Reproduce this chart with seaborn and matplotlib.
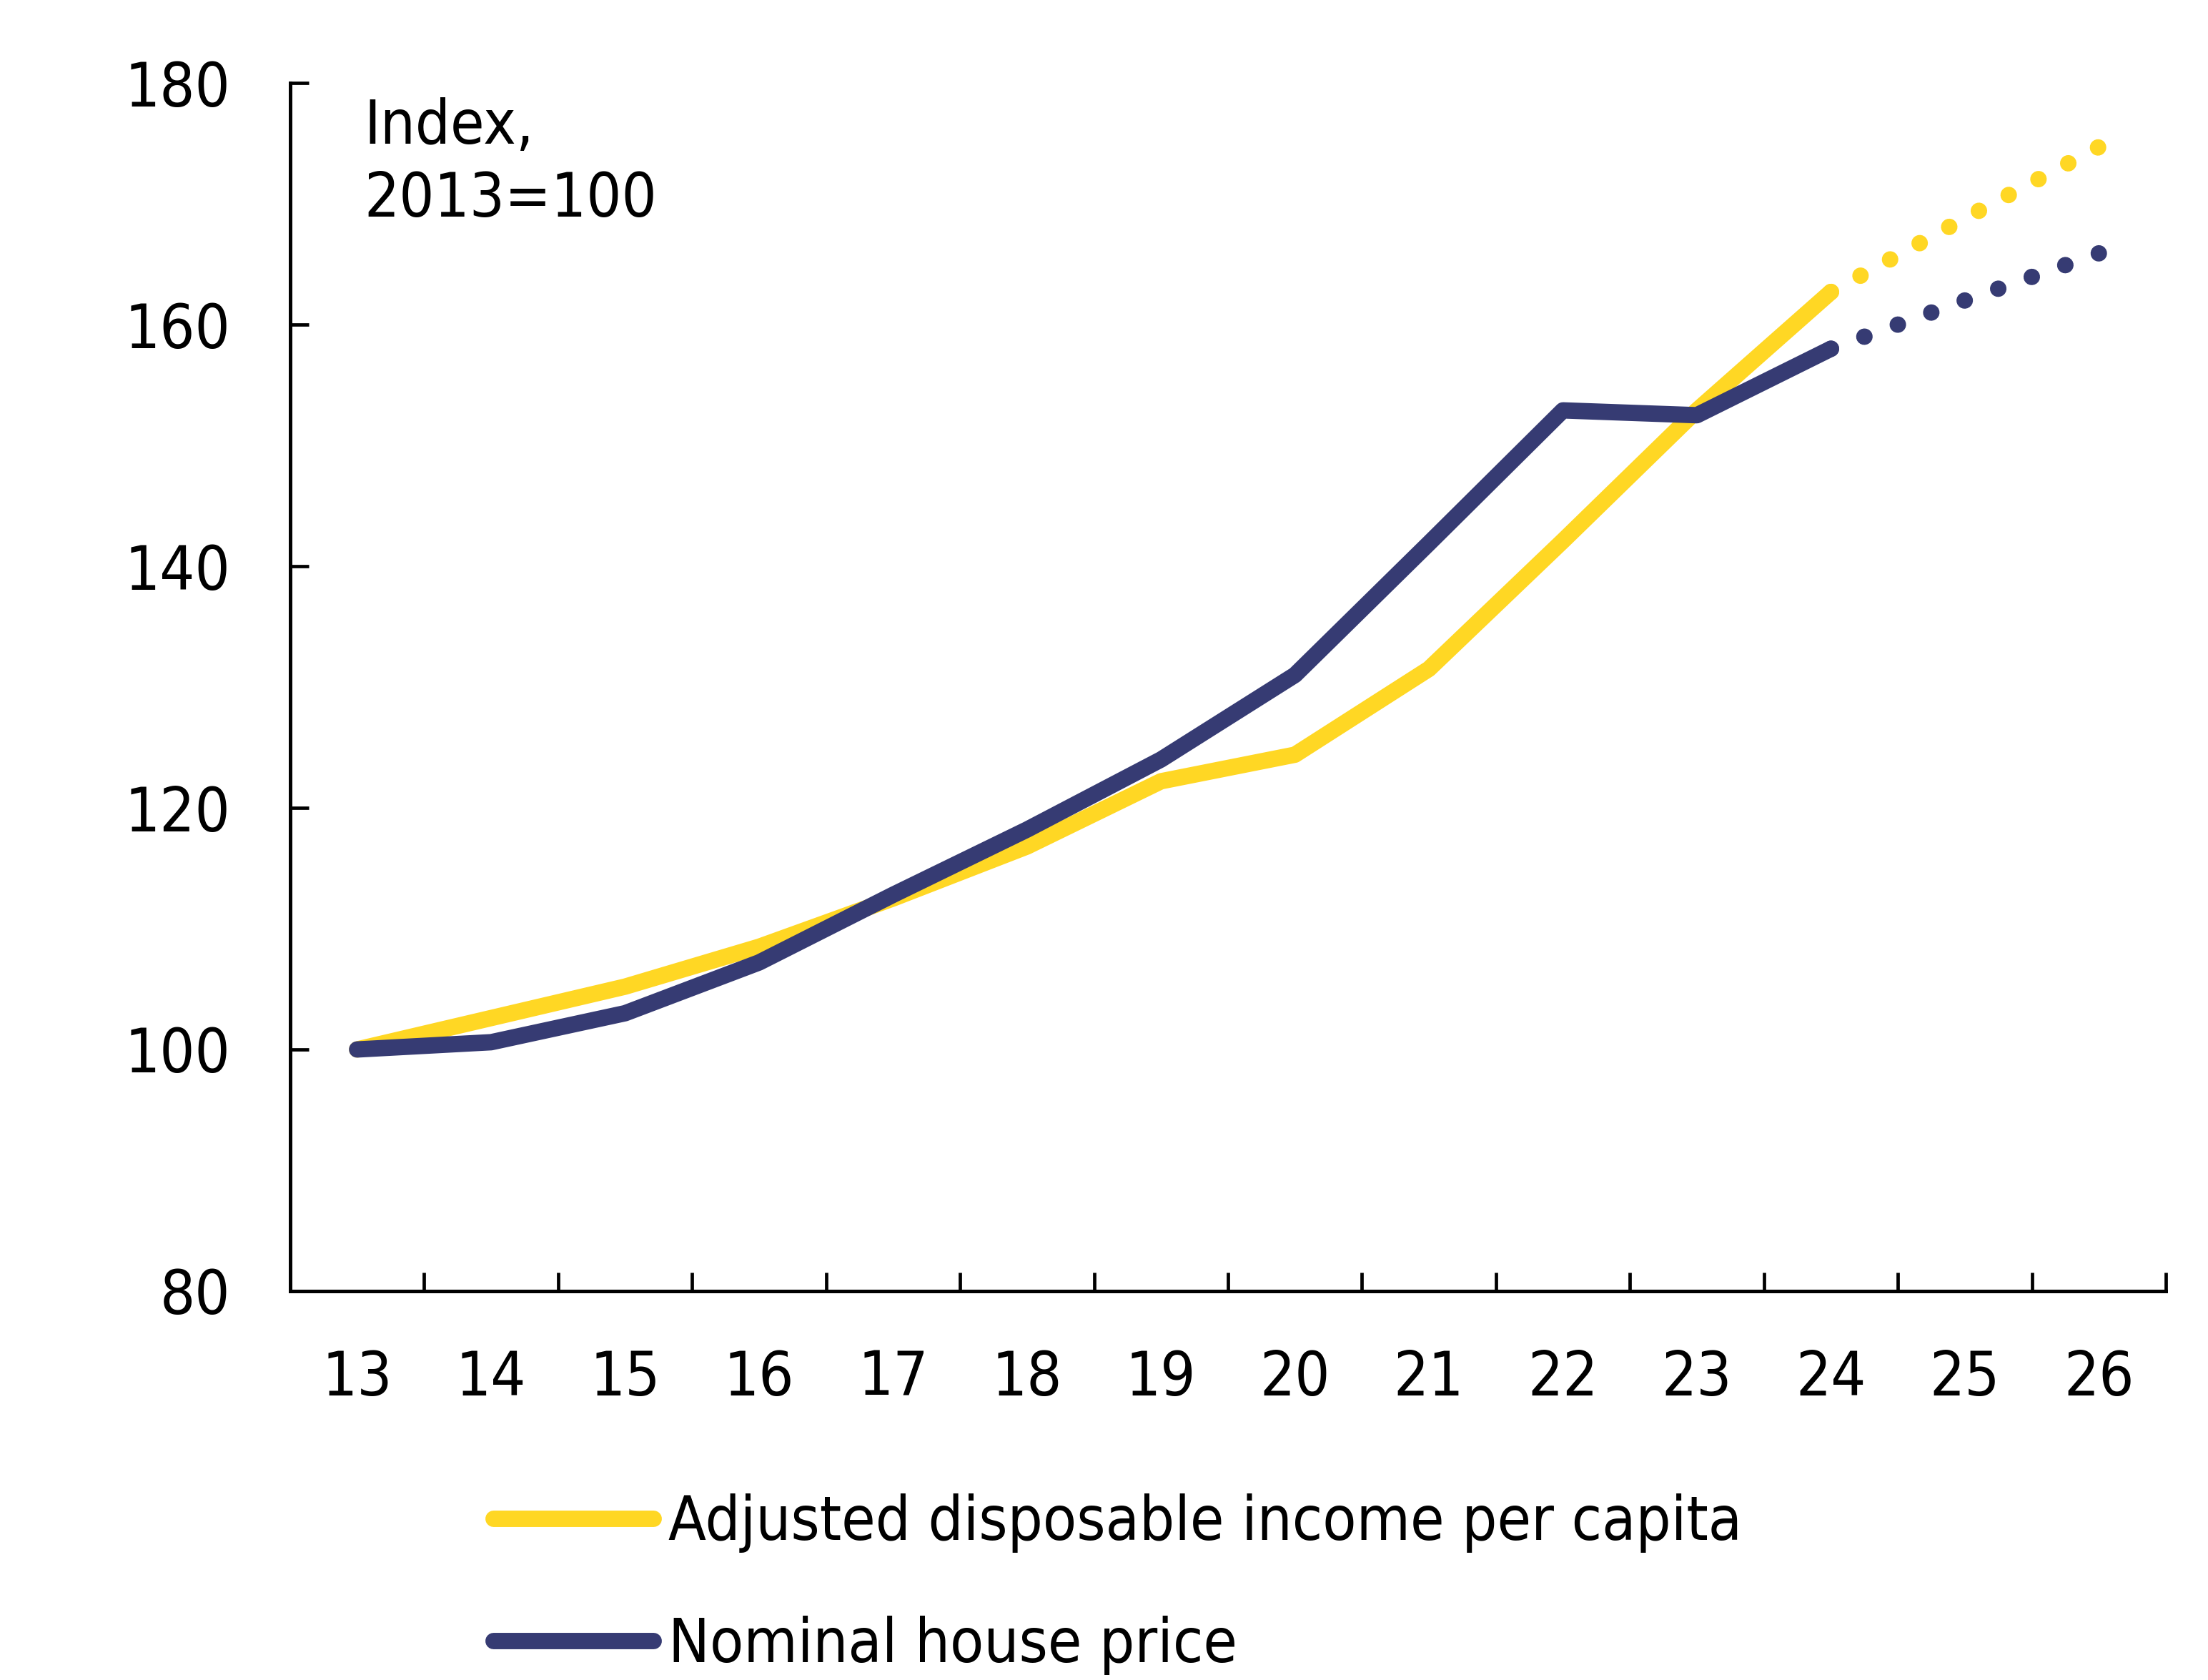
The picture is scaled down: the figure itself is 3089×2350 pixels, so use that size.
import matplotlib
matplotlib.use("Agg")
import matplotlib.pyplot as plt
import seaborn as sns
import numpy as np
from matplotlib.lines import Line2D

# Données (indice, 2013=100)
annees = [13, 14, 15, 16, 17, 18, 19, 20, 21, 22, 23, 24]
revenu = [100, 102.6, 105.2, 108.5, 112.5, 116.8, 122.2, 124.4, 131.5, 142.1, 152.9, 162.7]
prix_logement = [100, 100.6, 103.0, 107.2, 112.8, 118.2, 124.0, 131.0, 141.9, 152.9, 152.5, 158.0]

# Prévisions (pointillés)
annees_prev = [24, 25, 26]
revenu_prev = [162.7, 168.8, 174.7]
prix_prev = [158.0, 162.0, 165.9]

etiquettes = ["Adjusted disposable income per capita", "Nominal house price"]
jaune = "#FFD724"
marine = "#363B73"

sns.set_theme(style="ticks")
plt.rcParams['font.family'] = ['DejaVu Sans']
plt.rcParams['font.stretch'] = 'condensed'
plt.rcParams['text.color'] = 'black'
plt.rcParams['xtick.color'] = 'black'
plt.rcParams['ytick.color'] = 'black'

taille = 62

fig = plt.figure(figsize=(30.89, 23.5), dpi=100)
ax = fig.add_axes([0.1314, 0.2315, 0.8495, 0.7191])

epaisseur = 16.5

# Prévisions en pointillés
sns.lineplot(x=annees_prev, y=revenu_prev, color=jaune, lw=epaisseur, linestyle=(0, (0.01, 2.05)),
             dash_capstyle='round', ax=ax)
sns.lineplot(x=annees_prev, y=prix_prev, color=marine, lw=epaisseur, linestyle=(0, (0.01, 2.16)),
             dash_capstyle='round', ax=ax)

# Séries historiques
sns.lineplot(x=annees, y=revenu, color=jaune, lw=epaisseur, solid_capstyle='round', ax=ax)
sns.lineplot(x=annees, y=prix_logement, color=marine, lw=epaisseur, solid_capstyle='round', ax=ax)

# Axes
ax.set_xlim(12.5, 26.5)
ax.set_ylim(80, 180)
ax.set_yticks(range(80, 181, 20))
ax.set_xticks(annees + annees_prev[1:])
ax.set_xticks(np.arange(13.5, 27, 1), minor=True)
ax.tick_params(axis='x', which='major', length=0, pad=58, labelsize=taille)
ax.tick_params(axis='x', which='minor', direction='in', length=19, width=3.4)
ax.tick_params(axis='y', direction='in', length=19, width=3.4, pad=60, labelsize=taille)
sns.despine(ax=ax)
for cote in ['left', 'bottom']:
    ax.spines[cote].set_linewidth(3.6)
    ax.spines[cote].set_color('black')
ax.set_xlabel('')
ax.set_ylabel('')

ax.text(13.05, 178.85, "Index,\n2013=100", va='top', ha='left', fontsize=taille, linespacing=1.3)

# Légende sous le graphique
poignees = [Line2D([0], [0], color=jaune, lw=epaisseur, solid_capstyle='round'),
            Line2D([0], [0], color=marine, lw=epaisseur, solid_capstyle='round')]
fig.legend(poignees, etiquettes, loc='upper left', bbox_to_anchor=(0.2234, 0.1109),
           frameon=False, fontsize=taille, handlelength=2.6, handletextpad=0.25,
           labelspacing=1.02, borderpad=0, borderaxespad=0)

fig.savefig("out.png", dpi=100)
